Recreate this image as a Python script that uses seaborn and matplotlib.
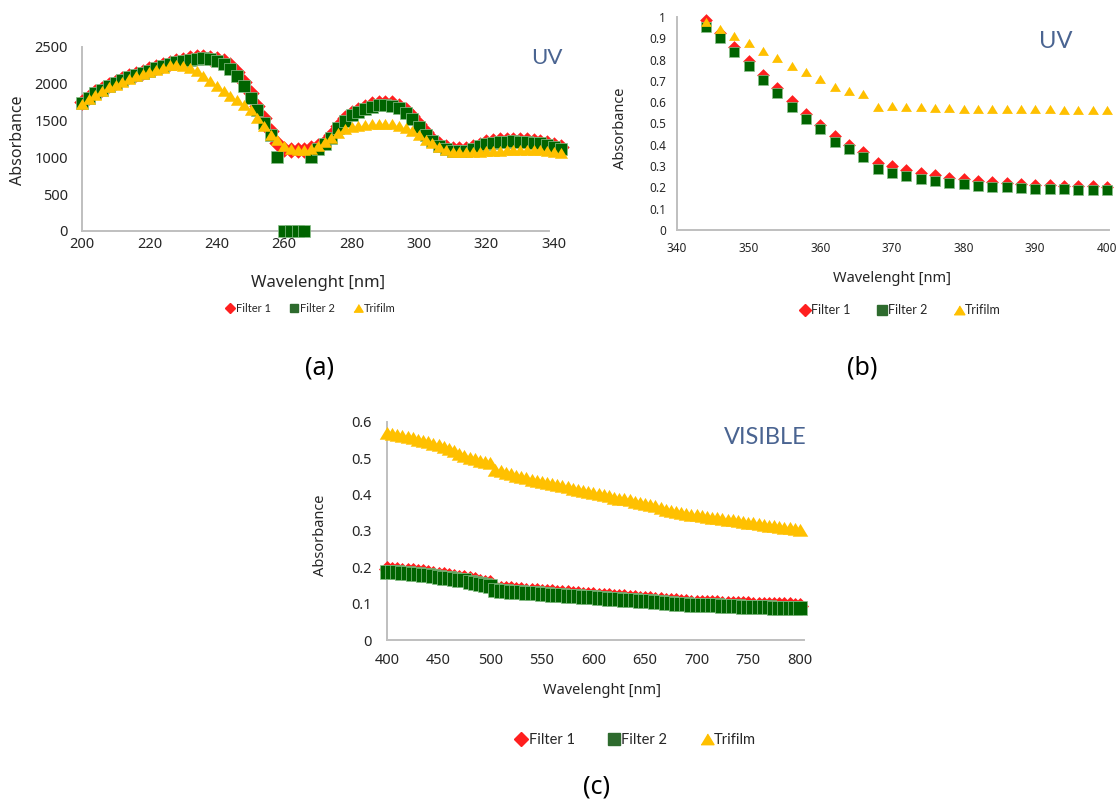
import numpy as np
import pandas as pd
import matplotlib
matplotlib.use("Agg")
import matplotlib.pyplot as plt
import seaborn as sns
from matplotlib.lines import Line2D
from matplotlib.ticker import FuncFormatter, MultipleLocator

# ---------------- data ----------------
# Panel (a): UV 200-342 nm, 2 nm step
wl_a = np.arange(200, 343, 2)
filter1_a = [1755, 1825, 1885, 1935, 1985, 2025, 2065, 2105, 2135, 2165,
             2195, 2225, 2255, 2285, 2305, 2325, 2345, 2360, 2362, 2355,
             2340, 2310, 2250, 2160, 2030, 1870, 1700, 1530, 1360, 1200,
             1120, 1100, 1095, 1100,
             1130, 1160, 1210, 1300, 1430, 1530, 1600, 1650, 1690, 1720,
             1740, 1745, 1735, 1705, 1650, 1560, 1450, 1340, 1255, 1180,
             1135, 1115, 1108, 1112, 1135, 1175, 1205, 1225, 1235, 1240,
             1243, 1240, 1235, 1225, 1215, 1195, 1165, 1135]
filter2_a = [1740, 1810, 1870, 1920, 1970, 2010, 2050, 2090, 2120, 2150,
             2180, 2210, 2240, 2270, 2290, 2310, 2330, 2340, 2345, 2335,
             2310, 2270, 2200, 2100, 1970, 1810, 1640, 1470, 1300, 1000,
             0, 0, 0, 0,
             1000, 1120, 1180, 1260, 1400, 1500, 1570, 1620, 1660, 1690,
             1710, 1715, 1700, 1670, 1610, 1520, 1410, 1300, 1220, 1150,
             1110, 1090, 1085, 1090, 1110, 1150, 1180, 1200, 1210, 1215,
             1218, 1215, 1210, 1200, 1190, 1170, 1140, 1110]
trifilm_a = [1720, 1790, 1850, 1900, 1950, 1990, 2030, 2070, 2100, 2130,
             2160, 2190, 2220, 2250, 2255, 2245, 2220, 2170, 2110, 2040,
             1970, 1900, 1840, 1780, 1710, 1640, 1540, 1420, 1310, 1230,
             1160, 1115, 1095, 1095,
             1110, 1150, 1210, 1270, 1330, 1380, 1410, 1430, 1445, 1455,
             1460, 1460, 1450, 1430, 1400, 1360, 1300, 1240, 1190, 1140,
             1100, 1080, 1070, 1068, 1070, 1075, 1082, 1088, 1092, 1098,
             1102, 1106, 1106, 1104, 1098, 1088, 1075, 1060]

# Panel (b): UV 344-400 nm, 2 nm step
wl_b = np.arange(344, 401, 2)
filter1_b = [0.985, 0.925, 0.860, 0.795, 0.730, 0.668, 0.604, 0.545, 0.495, 0.440,
             0.400, 0.365, 0.315, 0.300, 0.282, 0.268, 0.256, 0.246, 0.238, 0.231,
             0.225, 0.221, 0.217, 0.213, 0.211, 0.208, 0.206, 0.205, 0.204]
filter2_b = [0.955, 0.900, 0.834, 0.771, 0.704, 0.642, 0.579, 0.521, 0.473, 0.415,
             0.379, 0.344, 0.285, 0.269, 0.254, 0.239, 0.230, 0.221, 0.214, 0.208,
             0.203, 0.200, 0.197, 0.194, 0.192, 0.191, 0.189, 0.188, 0.188]
trifilm_b = [0.978, 0.942, 0.911, 0.876, 0.840, 0.806, 0.771, 0.740, 0.709, 0.673,
             0.654, 0.637, 0.576, 0.582, 0.579, 0.576, 0.573, 0.572, 0.570, 0.570,
             0.568, 0.567, 0.567, 0.566, 0.566, 0.565, 0.565, 0.564, 0.562]

# Panel (c): visible 400-800 nm, 5 nm step
wl_c = np.arange(400, 801, 5)
filter1_c = [0.195, 0.193, 0.192, 0.191, 0.190, 0.189, 0.187, 0.186, 0.184, 0.182,
             0.180, 0.178, 0.176, 0.174, 0.172, 0.170, 0.167, 0.164, 0.161, 0.158,
             0.156, 0.144, 0.141, 0.140, 0.139, 0.138, 0.137, 0.136, 0.135, 0.134,
             0.133, 0.132, 0.131, 0.130, 0.129, 0.128, 0.127, 0.126, 0.125, 0.124,
             0.123, 0.122, 0.121, 0.120, 0.119, 0.118, 0.117, 0.116, 0.115, 0.114,
             0.113, 0.112, 0.111, 0.110, 0.108, 0.107, 0.106, 0.105, 0.104, 0.103,
             0.103, 0.102, 0.102, 0.101, 0.101, 0.100, 0.100, 0.099, 0.099, 0.098,
             0.098, 0.097, 0.097, 0.096, 0.096, 0.095, 0.095, 0.095, 0.095, 0.094,
             0.094]
filter2_c = [0.188, 0.187, 0.186, 0.185, 0.184, 0.183, 0.181, 0.180, 0.178, 0.176,
             0.174, 0.172, 0.170, 0.168, 0.166, 0.164, 0.161, 0.158, 0.155, 0.152,
             0.150, 0.138, 0.135, 0.134, 0.133, 0.132, 0.131, 0.130, 0.129, 0.128,
             0.127, 0.126, 0.125, 0.124, 0.123, 0.122, 0.121, 0.120, 0.119, 0.118,
             0.117, 0.116, 0.115, 0.114, 0.113, 0.112, 0.111, 0.110, 0.109, 0.108,
             0.107, 0.106, 0.105, 0.104, 0.102, 0.101, 0.100, 0.099, 0.098, 0.097,
             0.097, 0.096, 0.096, 0.095, 0.095, 0.094, 0.094, 0.093, 0.093, 0.092,
             0.092, 0.091, 0.091, 0.090, 0.090, 0.089, 0.089, 0.088, 0.088, 0.087,
             0.087]
trifilm_c = [0.570, 0.567, 0.564, 0.561, 0.558, 0.555, 0.551, 0.548, 0.544, 0.540,
             0.536, 0.531, 0.525, 0.519, 0.513, 0.507, 0.502, 0.498, 0.494, 0.490,
             0.486, 0.468, 0.464, 0.460, 0.456, 0.452, 0.448, 0.445, 0.441, 0.438,
             0.435, 0.432, 0.429, 0.426, 0.423, 0.420, 0.416, 0.413, 0.410, 0.407,
             0.404, 0.401, 0.398, 0.395, 0.392, 0.389, 0.387, 0.384, 0.381, 0.378,
             0.375, 0.372, 0.369, 0.364, 0.357, 0.354, 0.352, 0.350, 0.347, 0.345,
             0.343, 0.341, 0.339, 0.337, 0.335, 0.333, 0.331, 0.329, 0.327, 0.325,
             0.323, 0.321, 0.319, 0.317, 0.315, 0.313, 0.311, 0.309, 0.307, 0.305,
             0.303]

series_labels = ["Filter 1", "Filter 2", "Trifilm"]
xlabel_text = "Wavelenght [nm]"
ylabel_text = "Absorbance"

# ---------------- style ----------------
sns.set_theme(style="white")
plt.rcParams["font.family"] = ["Noto Sans", "DejaVu Sans"]

RED = "#FF1F1F"
GREEN = "#006400"
GREEN_EDGE = "#8CC08C"
GREEN_LEG = "#2E6B2E"
YEL = "#FFC000"
TXT = "#262626"
SPINE = "#BFBFBF"
TITLE_C = "#4A6491"

W, H = 1118, 801
fig = plt.figure(figsize=(W / 100, H / 100), dpi=100)
fig.patch.set_facecolor("white")


def add_axes_px(left, right, top, bottom):
    return fig.add_axes([left / W, 1 - bottom / H, (right - left) / W, (bottom - top) / H])


TRI = [(-1.0, -0.8), (1.0, -0.8), (0.0, 0.85)]


def draw(ax, x, f1, f2, tri, s_d, s_s, s_t):
    sns.scatterplot(x=x, y=f1, ax=ax, marker="D", color=RED, s=s_d,
                    linewidth=0, clip_on=False, zorder=3, legend=False)
    sns.scatterplot(x=x, y=f2, ax=ax, marker="s", color=GREEN, s=s_s,
                    edgecolor=GREEN_EDGE, linewidth=0.5, clip_on=False, zorder=4, legend=False)
    sns.scatterplot(x=x, y=tri, ax=ax, marker=TRI, color=YEL, s=s_t,
                    linewidth=0, clip_on=False, zorder=5, legend=False)


def style_axes(ax, labelsize, xpad, ypad):
    for side in ["top", "right"]:
        ax.spines[side].set_visible(False)
    for side in ["left", "bottom"]:
        ax.spines[side].set_color(SPINE)
        ax.spines[side].set_linewidth(1.4)
        ax.spines[side].set_zorder(1)
    ax.tick_params(axis="both", length=0, labelsize=labelsize, colors=TXT)
    ax.tick_params(axis="x", pad=xpad)
    ax.tick_params(axis="y", pad=ypad)
    ax.set_xlabel("")
    ax.set_ylabel("")
    ax.grid(False)
    fmt = FuncFormatter(lambda v, p: f"{v:g}")
    ax.yaxis.set_major_formatter(fmt)
    ax.xaxis.set_major_formatter(fmt)


def add_legend(cx, cy, fs, ms, colsp):
    handles = [
        Line2D([], [], marker="D", color=RED, linestyle="None", markersize=ms * 0.85),
        Line2D([], [], marker="s", color=GREEN_LEG, linestyle="None", markersize=ms),
        Line2D([], [], marker=TRI, color=YEL, linestyle="None", markersize=ms * 1.1),
    ]
    fig.legend(handles, series_labels, loc="center", bbox_to_anchor=(cx / W, 1 - cy / H),
               ncol=3, frameon=False, handletextpad=0.0,
               columnspacing=colsp, handlelength=1.0, labelcolor=TXT,
               prop={"family": ["Lato", "DejaVu Sans"], "size": fs})


# ---------------- panel (a) ----------------
ax_a = add_axes_px(82, 556, 47, 231)
draw(ax_a, wl_a, filter1_a, filter2_a, trifilm_a, 70, 68, 90)
ax_a.set_xlim(200, 200 + 474 / 3.37)
ax_a.set_ylim(0, 2500)
ax_a.xaxis.set_major_locator(MultipleLocator(20))
ax_a.yaxis.set_major_locator(MultipleLocator(500))
style_axes(ax_a, 10.5, 4, 10)
ax_a.spines["bottom"].set_bounds(200, 338.6)
fig.text(18 / W, 1 - 140 / H, ylabel_text, rotation=90, ha="center", va="center",
         fontsize=11.5, color=TXT)
fig.text(318 / W, 1 - 283 / H, xlabel_text, ha="center", va="center", fontsize=12, color=TXT)
fig.text(547 / W, 1 - 58 / H, "UV", ha="center", va="center", fontsize=16,
         color=TITLE_C, family=["Lato", "DejaVu Sans"])
add_legend(310, 308, 8, 6, 1.6)
fig.text(320 / W, 1 - 368 / H, "(a)", ha="center", va="center", fontsize=18, color="black")

# ---------------- panel (b) ----------------
ax_b = add_axes_px(677, 1109, 17, 230)
draw(ax_b, wl_b, filter1_b, filter2_b, trifilm_b, 42, 50, 62)
ax_b.set_xlim(340, 400.3)
ax_b.set_ylim(0, 1)
ax_b.xaxis.set_major_locator(MultipleLocator(10))
ax_b.yaxis.set_major_locator(MultipleLocator(0.1))
style_axes(ax_b, 8.5, 9, 8)
fig.text(621 / W, 1 - 128 / H, ylabel_text, rotation=90, ha="center", va="center",
         fontsize=10.5, color=TXT)
fig.text(892 / W, 1 - 278 / H, xlabel_text, ha="center", va="center", fontsize=10.5, color=TXT)
fig.text(1056 / W, 1 - 41 / H, "UV", ha="center", va="center", fontsize=17,
         color=TITLE_C, family=["Lato", "DejaVu Sans"])
add_legend(900, 310, 9, 7, 2.0)
fig.text(862 / W, 1 - 368 / H, "(b)", ha="center", va="center", fontsize=18, color="black")

# ---------------- panel (c) ----------------
ax_c = add_axes_px(387, 804, 422, 640)
draw(ax_c, wl_c, filter1_c, filter2_c, trifilm_c, 75, 90, 125)
ax_c.set_xlim(400, 804)
ax_c.set_ylim(0, 0.6)
ax_c.xaxis.set_major_locator(MultipleLocator(50))
ax_c.yaxis.set_major_locator(MultipleLocator(0.1))
style_axes(ax_c, 10.5, 9, 11)
fig.text(321 / W, 1 - 535 / H, ylabel_text, rotation=90, ha="center", va="center",
         fontsize=10.5, color=TXT)
fig.text(602 / W, 1 - 690 / H, xlabel_text, ha="center", va="center", fontsize=10.5, color=TXT)
fig.text(765 / W, 1 - 438 / H, "VISIBLE", ha="center", va="center", fontsize=17,
         color=TITLE_C, family=["Lato", "DejaVu Sans"])
add_legend(635, 740, 10.5, 8.5, 2.2)
fig.text(597 / W, 1 - 787 / H, "(c)", ha="center", va="center", fontsize=18, color="black")

fig.savefig("out.png", dpi=100, facecolor="white")
